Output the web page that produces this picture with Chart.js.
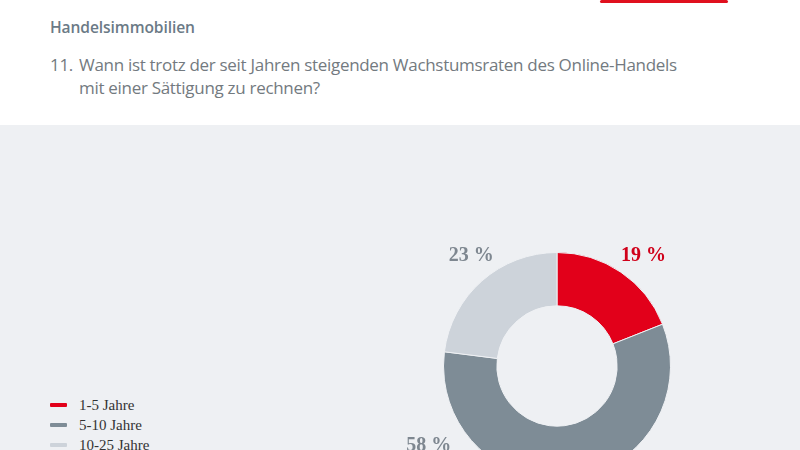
<!DOCTYPE html>
<html>
<head>
<meta charset="utf-8">
<script src="https://cdn.jsdelivr.net/npm/chart.js@4"></script>
<style>
  html, body { margin: 0; padding: 0; }
  body { width: 800px; height: 450px; overflow: hidden; position: relative; background: #fff; font-family: "Open Sans", sans-serif; }
  #band { position: absolute; left: 0; top: 125px; width: 800px; height: 325px; background: #eef0f3; }
  #logoLine { position: absolute; left: 600px; top: 0px; width: 128px; height: 3px; background: #e0101e; border-radius: 2px; }
  #heading { position: absolute; left: 50px; top: 16px; font-size: 15.6px; font-weight: 600; color: #6b7a86; letter-spacing: -0.1px; }
  #question { position: absolute; left: 50px; top: 53px; font-size: 17px; color: #737a80; line-height: 23px; letter-spacing: -0.3px; }
  #question .num { display: inline-block; width: 29px; }
  #question .indent { padding-left: 29px; }
  #wrap { position: absolute; left: 343px; top: 152px; width: 428px; height: 428px; }
  #legend { position: absolute; left: 50px; top: 395px; font-family: "Liberation Serif", serif; font-size: 15px; color: #333; }
  #legend div { height: 20px; line-height: 20px; display: flex; align-items: center; }
  #legend span.mk { display: inline-block; width: 17px; height: 4px; margin-right: 12px; border-radius: 1px; }
</style>
</head>
<body>
<div id="band"></div>
<div id="logoLine"></div>
<div id="heading">Handelsimmobilien</div>
<div id="question"><span class="num">11.</span>Wann ist trotz der seit Jahren steigenden Wachstumsraten des Online-Handels<br><span class="indent">mit einer Sättigung zu rechnen?</span></div>
<div id="wrap"><canvas id="chart"></canvas></div>
<div id="legend"></div>
<script>
const categories = ['1-5 Jahre', '5-10 Jahre', '10-25 Jahre'];
const shares = [19, 58, 23];
const colors = ['#e2001a', '#7e8c96', '#cdd3da'];
const labelColors = ['#d0001a', '#7e8790', '#7e8790'];
// angle (deg, 0 = 3 o'clock) where each percent label sits
const labelAngles = [-52, 148, -128];
const labelDist = [141, 152, 140];

const legendEl = document.getElementById('legend');
categories.forEach((c, i) => {
  const row = document.createElement('div');
  row.innerHTML = '<span class="mk" style="background:' + colors[i] + '"></span>' + c;
  legendEl.appendChild(row);
});

const pctLabels = {
  id: 'pctLabels',
  afterDatasetsDraw(chart) {
    const ctx = chart.ctx;
    const arc = chart.getDatasetMeta(0).data[0];
    const cx = arc.x, cy = arc.y;
    ctx.save();
    ctx.font = 'bold 20px "Liberation Serif", serif';
    ctx.textAlign = 'center';
    ctx.textBaseline = 'middle';
    shares.forEach((v, i) => {
      const a = labelAngles[i] * Math.PI / 180;
      const d = labelDist[i] * arc.outerRadius / 114;
      ctx.fillStyle = labelColors[i];
      ctx.fillText(v + ' %', cx + Math.cos(a) * d, cy + Math.sin(a) * d);
    });
    ctx.restore();
  }
};

new Chart(document.getElementById('chart'), {
  type: 'doughnut',
  data: {
    labels: categories,
    datasets: [{
      data: shares,
      backgroundColor: colors,
      borderColor: '#eef0f3',
      borderWidth: 1
    }]
  },
  options: {
    responsive: true,
    maintainAspectRatio: false,
    animation: false,
    cutout: '53%',
    layout: { padding: 100 },
    plugins: {
      legend: { display: false },
      tooltip: { enabled: false }
    }
  },
  plugins: [pctLabels]
});
</script>
</body>
</html>
